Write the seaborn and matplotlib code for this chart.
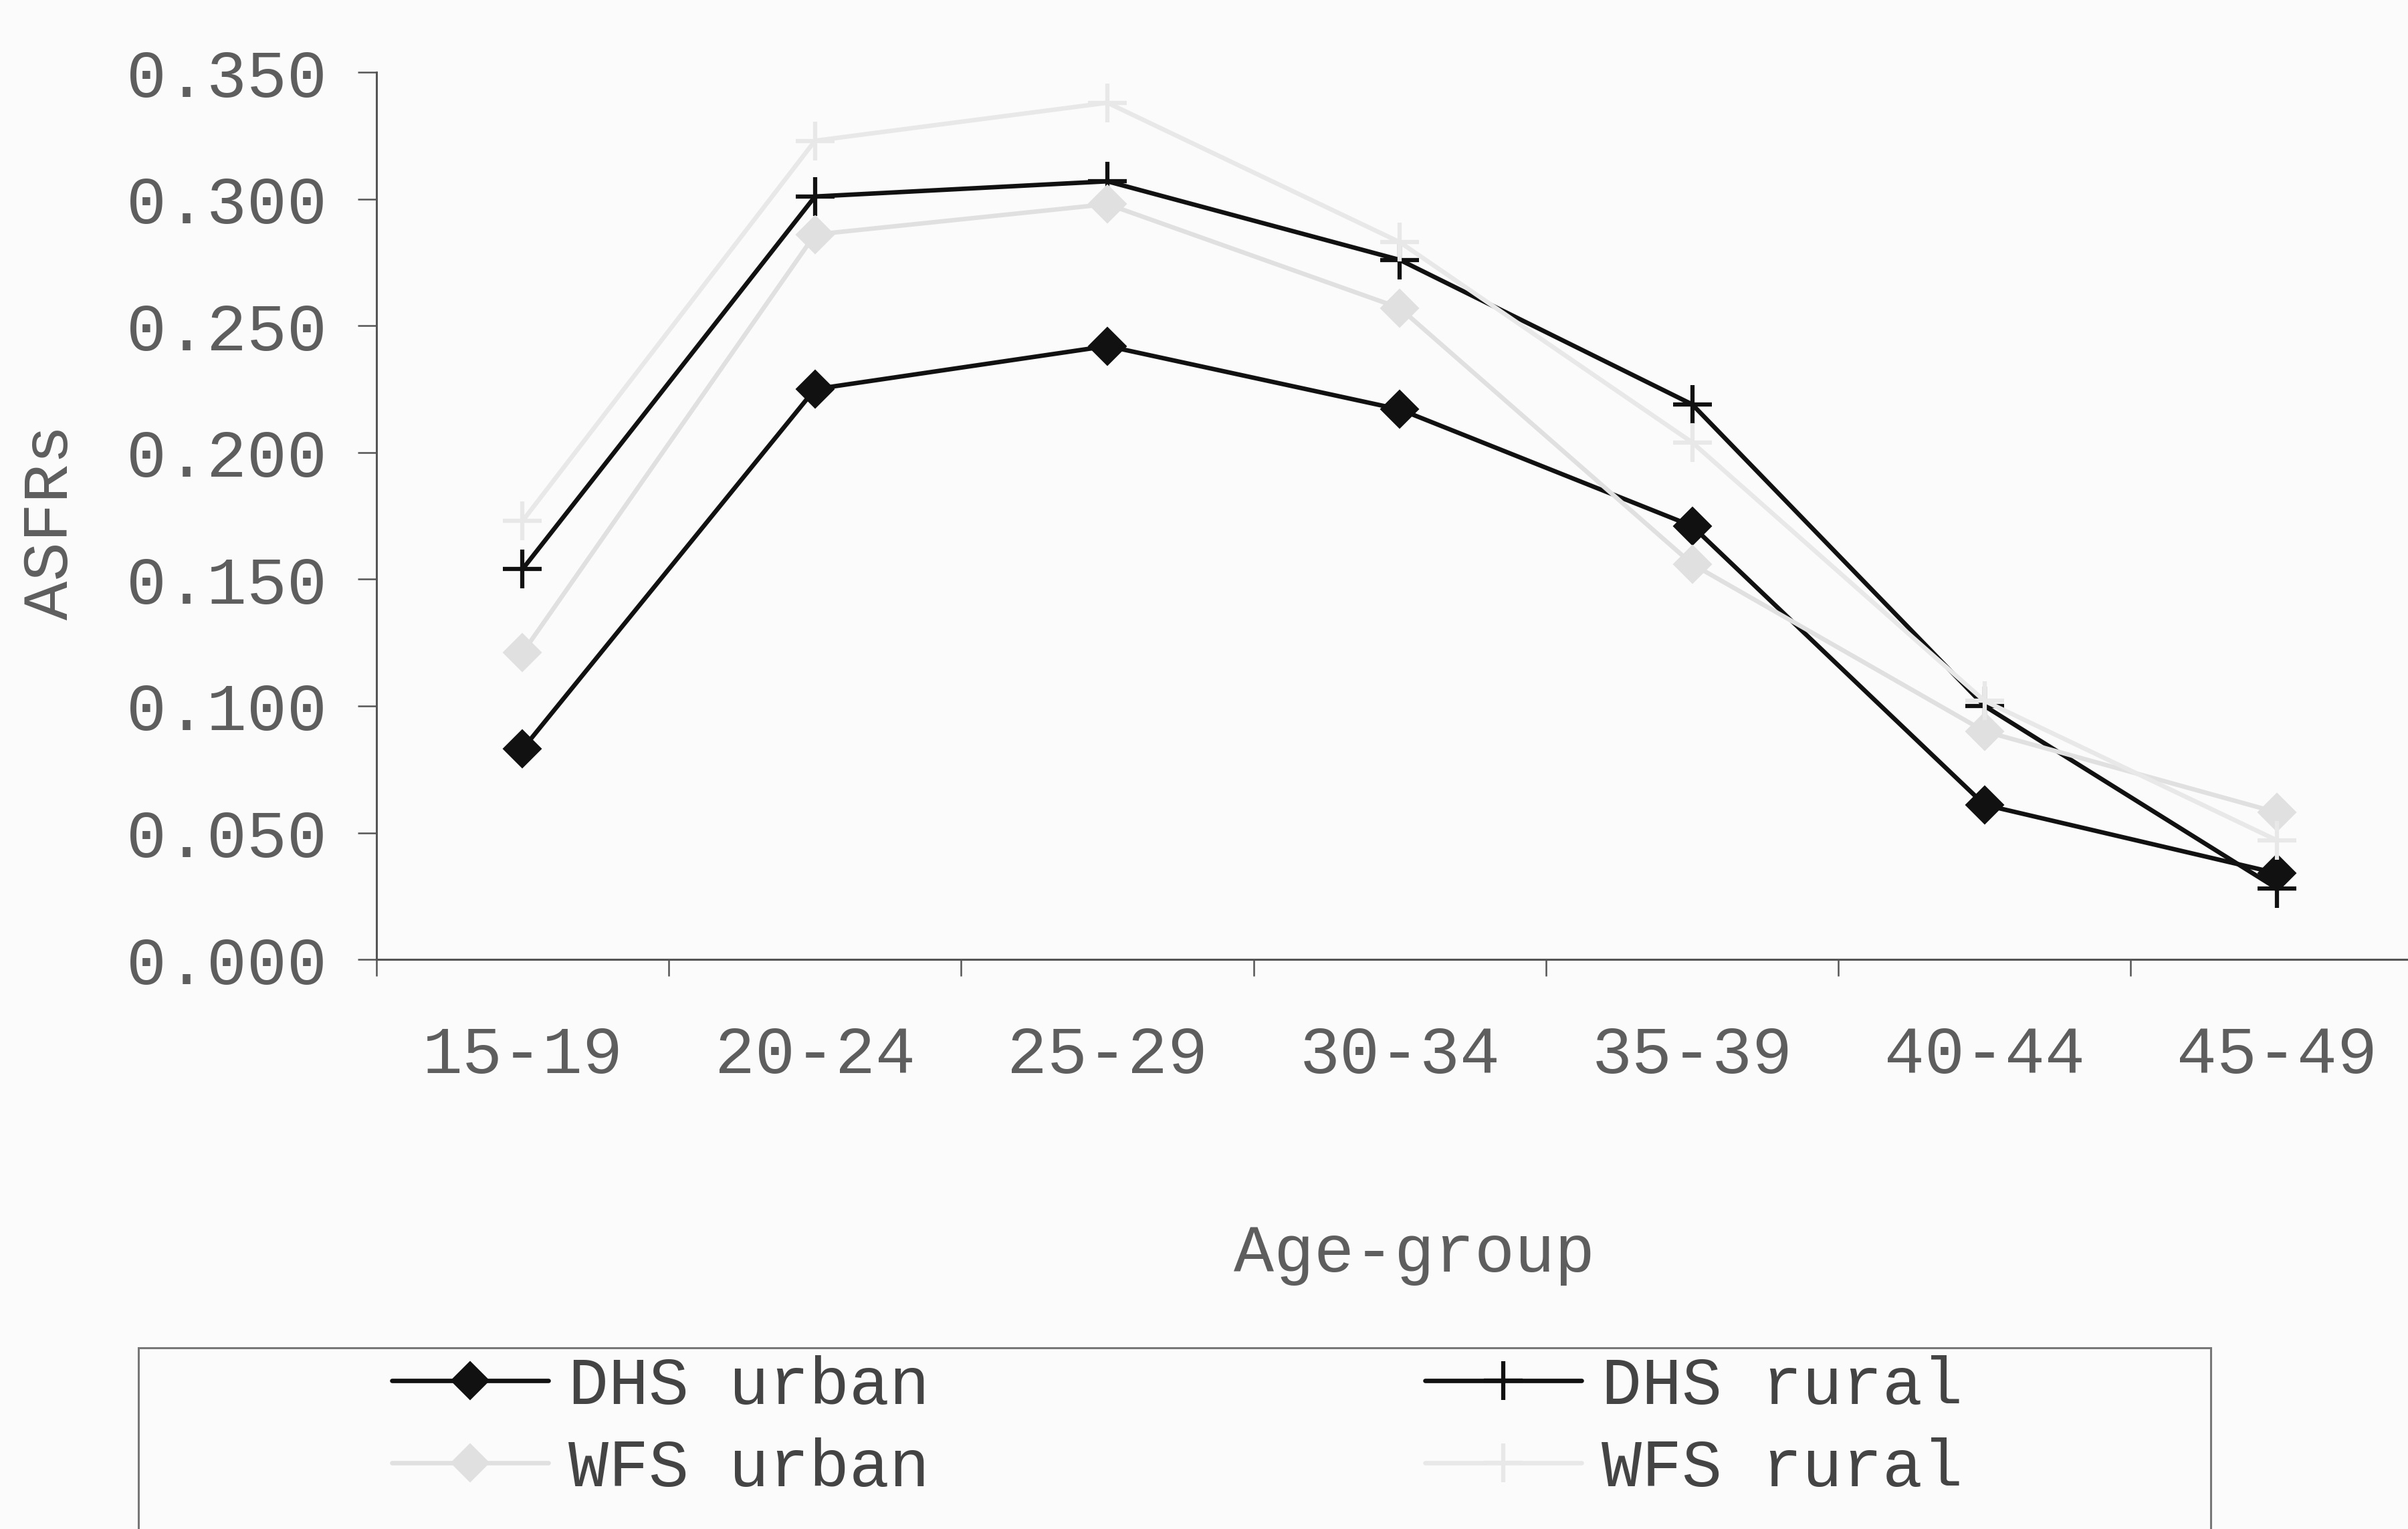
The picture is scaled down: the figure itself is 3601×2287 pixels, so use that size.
import numpy as np
import pandas as pd
import matplotlib
matplotlib.use('Agg')
import matplotlib.pyplot as plt
import seaborn as sns
from matplotlib.patches import Rectangle

age_groups = ['15-19', '20-24', '25-29', '30-34', '35-39', '40-44', '45-49']
dhs_urban = [0.083, 0.225, 0.242, 0.217, 0.171, 0.061, 0.034]
dhs_rural = [0.154, 0.301, 0.307, 0.276, 0.219, 0.100, 0.028]
wfs_urban = [0.121, 0.286, 0.298, 0.257, 0.156, 0.090, 0.058]
wfs_rural = [0.173, 0.323, 0.338, 0.283, 0.204, 0.102, 0.047]
y_ticks = [0.0, 0.05, 0.10, 0.15, 0.20, 0.25, 0.30, 0.35]

sns.set_style('white')
plt.rcParams['font.family'] = ['Liberation Mono', 'DejaVu Sans Mono']

fig = plt.figure(figsize=(36.01, 22.87), dpi=100)
fig.patch.set_facecolor('#fbfbfb')
ax = fig.add_axes([0.1563, 0.3725, 0.8500, 0.5802])
ax.set_facecolor('#fbfbfb')

x = np.arange(len(age_groups))
styles = [
    ('DHS urban', dhs_urban, '#111111', 'D', 29, 1.5),
    ('DHS rural', dhs_rural, '#111111', '+', 42, 4.5),
    ('WFS urban', wfs_urban, '#e0e0e0', 'D', 29, 1.5),
    ('WFS rural', wfs_rural, '#e8e8e8', '+', 42, 4.5),
]
handles = []
for name, vals, col, mk, ms, mew in styles:
    sns.lineplot(x=x, y=vals, ax=ax, color=col, linewidth=4.8, marker=mk,
                 markersize=ms, markeredgewidth=mew, markeredgecolor=col,
                 markerfacecolor=col, label=name, legend=False)
    handles.append(ax.lines[-1])

ax.set_xlim(-0.5, 6.5)
ax.set_ylim(0, 0.35)
ax.set_yticks(y_ticks)
ax.set_yticklabels([f'{v:.3f}' for v in y_ticks])
ax.set_xticks(x)
ax.set_xticklabels(age_groups)
ax.set_xticks(np.arange(-0.5, 7.0, 1.0), minor=True)

tick_col = '#5e5e5e'
ax.tick_params(axis='y', which='major', left=True, length=20, width=1.8,
               color='#555555', pad=33, labelsize=72, labelcolor=tick_col)
ax.tick_params(axis='x', which='major', bottom=True, length=0, pad=70,
               labelsize=72, labelcolor=tick_col)
ax.tick_params(axis='x', which='minor', bottom=True, length=18, width=1.8,
               color='#555555')

for side in ['top', 'right']:
    ax.spines[side].set_visible(False)
for side in ['left', 'bottom']:
    ax.spines[side].set_color('#555555')
    ax.spines[side].set_linewidth(2.2)

ax.set_ylabel('ASFRs', fontsize=70, color=tick_col)
ax.yaxis.set_label_coords(-0.159, 0.493)
ax.yaxis.label.set_va('center')
ax.set_xlabel('Age-group', fontsize=72, color=tick_col)
ax.xaxis.set_label_coords(0.507, -0.332)
ax.xaxis.label.set_va('center')

order = [handles[0], handles[2], handles[1], handles[3]]
labels = ['DHS urban', 'WFS urban', 'DHS rural', 'WFS rural']
fig.legend(order, labels, ncol=2, loc='upper left',
           bbox_to_anchor=(0.1627, 0.1135), frameon=False, borderpad=0,
           borderaxespad=0, handlelength=2.34, handletextpad=0.3,
           columnspacing=7.41, labelspacing=0.29, fontsize=72,
           labelcolor='#444444')

fig.patches.append(Rectangle((0.0575, -0.1), 0.8605, 0.2185,
                             transform=fig.transFigure, fill=False,
                             edgecolor='#777777', linewidth=2.2))

fig.savefig('out.png', dpi=100, facecolor=fig.get_facecolor())
